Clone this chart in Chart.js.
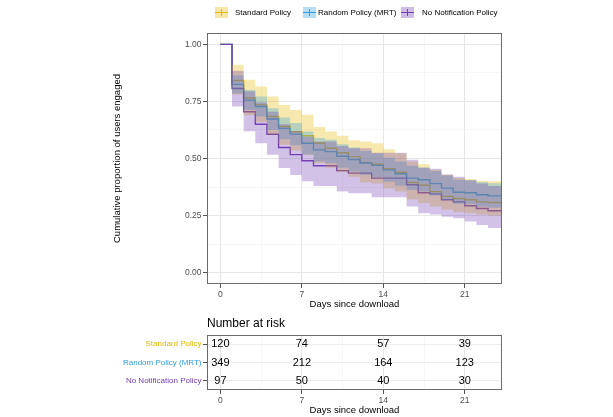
<!DOCTYPE html>
<html>
<head>
<meta charset="utf-8">
<script src="https://cdn.jsdelivr.net/npm/chart.js@4.4.1/dist/chart.umd.min.js"></script>
<style>
  html,body{margin:0;padding:0;background:#fff;}
  body{width:613px;height:417px;position:relative;overflow:hidden;font-family:"Liberation Sans",Arial,sans-serif;}
  canvas{position:absolute;left:0;}
  .key{position:absolute;top:7px;width:13px;height:11px;}
  .key .h{position:absolute;left:0;right:0;top:5px;height:1px;}
  .key .v{position:absolute;left:6px;width:1px;top:2px;height:7px;}
  .lt{position:absolute;top:7px;line-height:11px;font-size:8px;color:#000;white-space:nowrap;}
  #riskTitle{position:absolute;left:207px;top:316px;font-size:12px;line-height:14px;color:#000;white-space:nowrap;}
</style>
</head>
<body>
<canvas id="main" width="613" height="312" style="top:0"></canvas>
<canvas id="risk" width="613" height="105" style="top:312px"></canvas>
<div id="legend"></div>
<div id="riskTitle">Number at risk</div>
<script>
// ---------- data ----------
const seriesNames = ["Standard Policy", "Random Policy (MRT)", "No Notification Policy"];
const seriesColors = ["#E7B800", "#2E9FDF", "#7340B5"];

const days = [0,1,2,3,4,5,6,7,8,9,10,11,12,13,14,15,16,17,18,19,20,21,22,23,25];

const stdSurv  = [1,.842,.765,.735,.684,.640,.617,.600,.567,.545,.525,.508,.483,.475,.455,.440,.395,.383,.355,.334,.325,.319,.310,.307,.307];
const stdUpper = [1,.911,.845,.816,.772,.735,.713,.692,.638,.618,.600,.580,.575,.567,.541,.523,.487,.475,.451,.429,.414,.410,.402,.400,.400];
const stdLower = [1,.780,.690,.660,.605,.560,.535,.515,.480,.460,.440,.420,.395,.390,.370,.355,.320,.305,.290,.275,.265,.260,.255,.250,.250];

const mrtSurv  = [1,.825,.756,.728,.673,.632,.607,.567,.538,.530,.510,.495,.480,.470,.450,.433,.414,.407,.390,.370,.352,.350,.341,.336,.336];
const mrtUpper = [1,.865,.800,.772,.720,.680,.656,.618,.590,.582,.562,.548,.533,.523,.503,.487,.468,.461,.445,.425,.407,.405,.397,.392,.392];
const mrtLower = [1,.785,.713,.684,.625,.584,.558,.517,.487,.479,.459,.443,.428,.418,.398,.381,.362,.355,.338,.318,.302,.300,.289,.284,.284];

const noneSurv  = [1,.807,.705,.650,.606,.548,.517,.490,.468,.468,.447,.436,.436,.414,.414,.414,.385,.350,.345,.319,.310,.293,.281,.271,.271];
const noneUpper = [1,.885,.795,.745,.705,.650,.620,.595,.575,.575,.555,.545,.545,.525,.525,.525,.495,.460,.455,.430,.420,.405,.390,.380,.380];
const noneLower = [1,.728,.619,.567,.516,.458,.428,.400,.380,.380,.355,.348,.348,.330,.330,.330,.290,.260,.255,.245,.238,.224,.209,.195,.195];

const xTickLabels = [0, 7, 14, 21];
const xGridTicks = [0, 3.5, 7, 10.5, 14, 17.5, 21];
const yTickLabels = [0, 0.25, 0.5, 0.75, 1];
const yGridTicks = [0, 0.125, 0.25, 0.375, 0.5, 0.625, 0.75, 0.875, 1];

const riskTimes = [0, 7, 14, 21];
const stdRisk = [120, 74, 57, 39];
const mrtRisk = [349, 212, 164, 123];
const noneRisk = [97, 50, 40, 30];

// ---------- helpers ----------
const FONT = '"Liberation Sans", Arial, sans-serif';
Chart.defaults.font.family = FONT;
function rgba(hex, a) {
  const n = parseInt(hex.slice(1), 16);
  return `rgba(${(n>>16)&255},${(n>>8)&255},${n&255},${a})`;
}
const pts = arr => days.map((d, i) => ({x: d, y: arr[i]}));
const isMajorX = v => xTickLabels.includes(v);
const isMajorY = v => yTickLabels.some(t => Math.abs(t - v) < 1e-9);

// legend (HTML)
const keyLefts = [215, 303, 401], textLefts = [235, 318, 422];
const legend = document.getElementById('legend');
seriesNames.forEach((name, i) => {
  const k = document.createElement('div');
  k.className = 'key';
  k.style.left = keyLefts[i] + 'px';
  k.style.background = rgba(seriesColors[i], 0.35);
  k.innerHTML = `<div class="h" style="background:${seriesColors[i]}"></div><div class="v" style="background:${seriesColors[i]}"></div>`;
  legend.appendChild(k);
  const t = document.createElement('div');
  t.className = 'lt';
  t.style.left = textLefts[i] + 'px';
  t.textContent = name;
  legend.appendChild(t);
});

const panelBorder = {
  id: 'panelBorder',
  afterDatasetsDraw(chart) {
    const {ctx, chartArea: a} = chart;
    ctx.save();
    ctx.strokeStyle = '#6b6b6b';
    ctx.lineWidth = 1;
    ctx.strokeRect(Math.round(a.left) + 0.5, Math.round(a.top) + 0.5,
                   Math.round(a.right - a.left) - 1, Math.round(a.bottom - a.top) - 1);
    ctx.restore();
  }
};

function bandSets(upper, lower, color, order) {
  return [
    {data: pts(upper), stepped: 'before', borderWidth: 0, pointRadius: 0, fill: false, order, backgroundColor: 'transparent'},
    {data: pts(lower), stepped: 'before', borderWidth: 0, pointRadius: 0, fill: '-1', order, backgroundColor: rgba(color, 0.32)}
  ];
}
function lineSet(vals, color) {
  return {data: pts(vals), stepped: 'before', borderColor: color, borderWidth: 1.4, pointRadius: 0, fill: false, order: 10};
}

const tickFont = {family: FONT, size: 8.5};
const titleFont = {family: FONT, size: 9.5, lineHeight: 1.2};

const xScale = (titlePadBottom, height) => ({
  type: 'linear', min: -1.15, max: 24.2,
  afterBuildTicks: s => { s.ticks = xGridTicks.map(v => ({value: v})); },
  afterFit: s => { s.height = height; },
  ticks: {callback: v => isMajorX(v) ? String(v) : '', color: '#4d4d4d', font: tickFont, padding: 2, maxRotation: 0, autoSkip: false},
  grid: {
    color: c => (c.tick && isMajorX(c.tick.value)) ? '#e6e6e6' : '#f1f1f1',
    lineWidth: c => (c.tick && isMajorX(c.tick.value)) ? 1 : 0.6,
    tickColor: c => (c.tick && isMajorX(c.tick.value)) ? '#555' : 'rgba(0,0,0,0)',
    tickLength: 4, tickWidth: 1
  },
  border: {display: false},
  title: {display: true, text: 'Days since download', color: '#000', font: titleFont, padding: {top: 0, bottom: titlePadBottom}}
});

// ---------- main chart ----------
new Chart(document.getElementById('main'), {
  type: 'line',
  data: {
    datasets: [
      lineSet(noneSurv, seriesColors[2]),
      lineSet(mrtSurv, seriesColors[1]),
      lineSet(stdSurv, seriesColors[0]),
      ...bandSets(stdUpper, stdLower, seriesColors[0], 3),
      ...bandSets(mrtUpper, mrtLower, seriesColors[1], 2),
      ...bandSets(noneUpper, noneLower, seriesColors[2], 1)
    ]
  },
  options: {
    responsive: false, animation: false, devicePixelRatio: 1,
    layout: {padding: {top: 33, right: 111, left: 0, bottom: 0}},
    plugins: {legend: {display: false}, tooltip: {enabled: false}, filler: {drawTime: 'beforeDatasetDraw', propagate: false}},
    scales: {
      x: xScale(2, 28),
      y: {
        type: 'linear', min: -0.05, max: 1.05,
        afterBuildTicks: s => { s.ticks = yGridTicks.map(v => ({value: v})); },
        afterFit: s => { s.width = 207; },
        ticks: {callback: v => isMajorY(v) ? v.toFixed(2) : '', color: '#4d4d4d', font: tickFont, padding: 1.5, autoSkip: false},
        grid: {
          color: c => (c.tick && isMajorY(c.tick.value)) ? '#e6e6e6' : '#f1f1f1',
          lineWidth: c => (c.tick && isMajorY(c.tick.value)) ? 1 : 0.6,
          tickColor: c => (c.tick && isMajorY(c.tick.value)) ? '#555' : 'rgba(0,0,0,0)',
          tickLength: 4
        },
        border: {display: false},
        title: {display: true, text: 'Cumulative proportion of users engaged', color: '#000', font: titleFont, padding: {top: 112, bottom: 0}}
      }
    }
  },
  plugins: [panelBorder]
});

// ---------- risk table ----------
const riskRows = [stdRisk, mrtRisk, noneRisk];
const riskText = {
  id: 'riskText',
  afterDatasetsDraw(chart) {
    const {ctx, scales: {x, y}} = chart;
    ctx.save();
    ctx.font = `11px ${FONT}`;
    ctx.fillStyle = '#000';
    ctx.textAlign = 'center';
    ctx.textBaseline = 'middle';
    riskRows.forEach((row, i) => {
      row.forEach((n, j) => {
        ctx.fillText(String(n), x.getPixelForValue(riskTimes[j]), y.getPixelForValue(i));
      });
    });
    ctx.restore();
  }
};

new Chart(document.getElementById('risk'), {
  type: 'line',
  data: {labels: seriesNames, datasets: []},
  options: {
    responsive: false, animation: false, devicePixelRatio: 1,
    layout: {padding: {top: 23, right: 111, left: 0, bottom: 0}},
    plugins: {legend: {display: false}, tooltip: {enabled: false}},
    scales: {
      x: xScale(1.3, 27),
      y: {
        type: 'category', labels: seriesNames, offset: true,
        afterFit: s => { s.width = 207; },
        ticks: {color: c => seriesColors[c.index], font: {family: FONT, size: 8}, padding: 1.5, autoSkip: false},
        grid: {color: '#ececec', lineWidth: 1, tickColor: '#555', tickLength: 4, offset: false},
        border: {display: false}
      }
    }
  },
  plugins: [panelBorder, riskText]
});
</script>
</body>
</html>
